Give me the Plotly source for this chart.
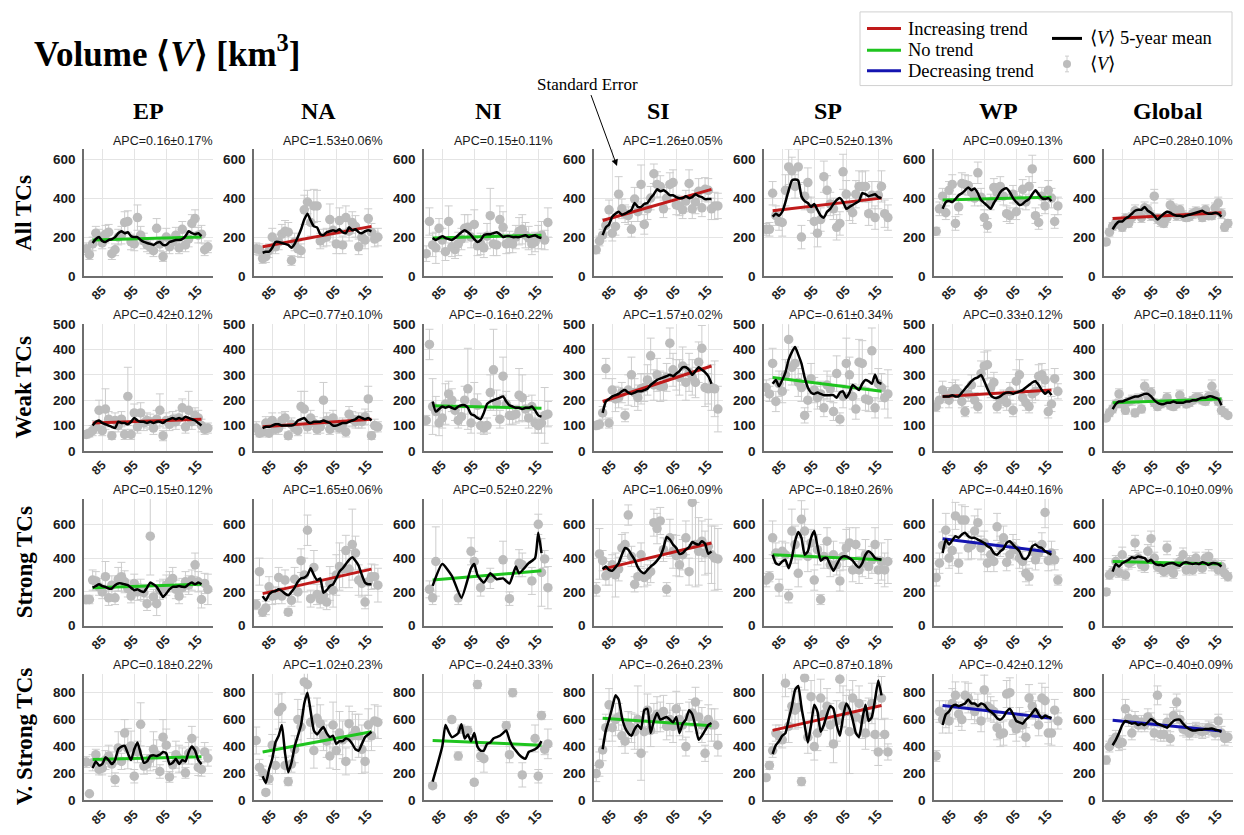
import plotly.graph_objects as go

# ---------------------------------------------------------------- axes data
YEARS = list(range(1980, 2019))          # yearly mean volume points
MEAN_YEARS = list(range(1982, 2017))     # 5-year running mean
TREND_YEARS = [1982, 2016]               # linear trend end points

REGIONS = ["EP", "NA", "NI", "SI", "SP", "WP", "Global"]
ROW_LABELS = ["All TCs", "Weak TCs", "Strong TCs", "V. Strong TCs"]
X_TICKS = [1985, 1995, 2005, 2015]
X_TICK_TEXT = ["85", "95", "05", "15"]
Y_TICKS = [[0, 200, 400, 600], [0, 100, 200, 300, 400, 500],
           [0, 200, 400, 600], [0, 200, 400, 600, 800]]
Y_MAX = [650, 500, 750, 940]

APC_ALL = ["0.16±0.17", "1.53±0.06", "0.15±0.11", "1.26±0.05", "0.52±0.13", "0.09±0.13", "0.28±0.10"]
APC_WEAK = ["0.42±0.12", "0.77±0.10", "-0.16±0.22", "1.57±0.02", "-0.61±0.34", "0.33±0.12", "0.18±0.11"]
APC_STRONG = ["0.15±0.12", "1.65±0.06", "0.52±0.22", "1.06±0.09", "-0.18±0.26", "-0.44±0.16", "-0.10±0.09"]
APC_VSTRONG = ["0.18±0.22", "1.02±0.23", "-0.24±0.33", "-0.26±0.23", "0.87±0.18", "-0.42±0.12", "-0.40±0.09"]

TREND_ALL = ["none", "inc", "none", "inc", "inc", "none", "inc"]
TREND_WEAK = ["inc", "inc", "none", "inc", "none", "inc", "none"]
TREND_STRONG = ["none", "inc", "none", "inc", "none", "dec", "none"]
TREND_VSTRONG = ["none", "none", "none", "none", "inc", "dec", "dec"]

# ---------------------------------------------------------------- All TCs
EP_ALL_V = [140, 110, 165, 220, 200, 170, 215, 225, 115, 135,
            200, 210, 275, 280, 175, 165, 300, 210, 180, 160,
            150, 130, 245, 165, 100, 200, 150, 175, 210, 145,
            240, 160, 190, 270, 295, 210, 215, 135, 150]
EP_ALL_SE = [30, 25, 35, 35, 40, 30, 45, 40, 30, 30,
             40, 45, 55, 55, 40, 35, 65, 45, 40, 35,
             35, 30, 50, 35, 25, 45, 35, 35, 40, 30,
             40, 35, 40, 45, 45, 40, 45, 30, 30]
EP_ALL_M = [170, 190, 200, 180, 175, 185, 190, 200, 220, 230,
            220, 225, 205, 200, 200, 185, 175, 170, 165, 160,
            170, 175, 160, 160, 175, 180, 185, 185, 190, 205,
            230, 220, 215, 220, 205]
EP_ALL_T = [185, 200]

NA_ALL_V = [140, 135, 90, 100, 130, 200, 150, 175, 215, 230,
            225, 80, 175, 140, 130, 340, 380, 275, 360, 360,
            180, 195, 200, 290, 235, 165, 285, 160, 300, 230,
            275, 255, 150, 200, 185, 295, 225, 190, 200]
NA_ALL_SE = [30, 30, 25, 30, 35, 45, 35, 40, 50, 55,
             50, 25, 45, 40, 35, 75, 60, 70, 85, 80,
             40, 45, 45, 80, 60, 50, 65, 45, 60, 50,
             55, 55, 40, 45, 45, 50, 45, 40, 45]
NA_ALL_M = [120, 125, 125, 145, 175, 175, 170, 165, 160, 145,
            165, 200, 240, 290, 320, 285, 255, 250, 215, 210,
            225, 230, 235, 230, 240, 225, 220, 250, 235, 240,
            225, 220, 230, 235, 230]
NA_ALL_T = [150, 255]

NI_ALL_V = [115, 280, 160, 145, 245, 185, 125, 280, 150, 135,
            165, 190, 245, 250, 200, 265, 155, 165, 145, 205,
            310, 165, 160, 290, 250, 165, 175, 165, 200, 230,
            240, 210, 195, 165, 175, 200, 210, 185, 275]
NI_ALL_SE = [40, 70, 60, 80, 50, 60, 45, 80, 50, 45,
             60, 55, 70, 65, 55, 75, 50, 55, 50, 65,
             140, 60, 55, 70, 80, 50, 55, 45, 60, 70,
             75, 65, 60, 55, 50, 60, 70, 50, 75]
NI_ALL_M = [195, 185, 195, 205, 195, 190, 185, 195, 210, 225,
            235, 225, 210, 190, 175, 185, 210, 215, 215, 220,
            225, 215, 200, 205, 205, 200, 200, 200, 205, 210,
            200, 205, 210, 200, 195]
NI_ALL_T = [195, 210]

SI_ALL_V = [135, 180, 210, 260, 340, 220, 255, 420, 345, 320,
            310, 240, 395, 330, 470, 265, 345, 400, 525, 470,
            460, 345, 400, 470, 480, 365, 360, 340, 385, 475,
            345, 380, 435, 350, 445, 440, 345, 360, 360]
SI_ALL_SE = [20, 25, 30, 35, 50, 40, 45, 90, 50, 45,
             45, 40, 60, 50, 100, 50, 55, 60, 50, 65,
             55, 45, 55, 60, 65, 50, 50, 45, 55, 70,
             50, 60, 65, 45, 60, 60, 55, 70, 65]
SI_ALL_M = [210, 250, 265, 305, 320, 330, 315, 320, 330, 340,
            375, 355, 355, 370, 375, 400, 420, 445, 435, 440,
            430, 415, 415, 405, 400, 400, 410, 400, 405, 420,
            410, 405, 395, 395, 395]
SI_ALL_T = [285, 445]

SP_ALL_V = [240, 240, 425, 310, 280, 275, 440, 560, 540, 460,
            560, 200, 410, 480, 345, 280, 220, 290, 510, 440,
            370, 345, 250, 270, 535, 420, 350, 325, 420, 460,
            460, 460, 320, 415, 300, 415, 460, 320, 300]
SP_ALL_SE = [30, 35, 60, 50, 45, 70, 80, 90, 70, 60,
             90, 60, 70, 75, 60, 60, 70, 60, 80, 75,
             60, 55, 65, 60, 90, 70, 65, 55, 70, 80,
             75, 80, 60, 70, 60, 70, 80, 70, 65]
SP_ALL_M = [305, 320, 310, 330, 380, 440, 490, 495, 490, 410,
            385, 375, 355, 370, 340, 310, 300, 330, 345, 370,
            390, 400, 380, 345, 355, 365, 375, 385, 425, 420,
            410, 415, 420, 405, 400]
SP_ALL_T = [335, 400]

WP_ALL_V = [230, 345, 410, 325, 440, 470, 270, 355, 475, 470,
            465, 430, 400, 530, 405, 300, 260, 380, 455, 430,
            460, 410, 320, 310, 420, 330, 390, 445, 380, 460,
            550, 310, 275, 410, 360, 440, 400, 280, 360]
WP_ALL_SE = [20, 35, 40, 35, 45, 50, 35, 40, 55, 50,
             50, 45, 40, 55, 45, 40, 35, 40, 45, 45,
             50, 45, 40, 40, 45, 40, 45, 50, 40, 50,
             70, 40, 35, 45, 40, 50, 50, 35, 45]
WP_ALL_M = [345, 380, 385, 380, 395, 415, 425, 440, 455, 440,
            450, 425, 390, 375, 360, 345, 375, 400, 430, 445,
            450, 430, 400, 380, 365, 370, 385, 395, 420, 440,
            420, 400, 395, 400, 385]
WP_ALL_T = [390, 405]

GL_ALL_V = [175, 225, 255, 275, 270, 250, 295, 270, 300, 335,
            320, 300, 350, 340, 310, 410, 295, 280, 270, 300,
            365, 345, 310, 340, 310, 300, 305, 320, 330, 325,
            300, 340, 310, 310, 350, 375, 320, 250, 270]
GL_ALL_SE = [15, 20, 20, 25, 25, 20, 25, 20, 25, 30,
             25, 25, 30, 25, 25, 35, 25, 25, 20, 25,
             30, 25, 25, 25, 25, 20, 20, 25, 25, 25,
             20, 25, 20, 20, 25, 30, 25, 20, 20]
GL_ALL_M = [240, 265, 280, 280, 295, 305, 320, 335, 340, 340,
            355, 335, 325, 310, 290, 305, 320, 330, 325, 315,
            310, 310, 305, 310, 315, 320, 325, 330, 335, 325,
            320, 320, 325, 320, 305]
GL_ALL_T = [295, 325]

# ---------------------------------------------------------------- Weak TCs
EP_WEAK_V = [65, 70, 80, 95, 160, 80, 165, 125, 60, 120,
             100, 125, 65, 215, 65, 150, 95, 150, 110, 120,
             115, 90, 125, 160, 60, 120, 105, 125, 115, 130,
             170, 95, 160, 115, 140, 130, 100, 85, 90]
EP_WEAK_SE = [15, 15, 20, 25, 40, 20, 80, 30, 15, 30,
              25, 30, 20, 115, 20, 35, 25, 40, 30, 30,
              30, 25, 35, 65, 20, 30, 25, 30, 30, 30,
              35, 25, 75, 30, 30, 30, 25, 20, 20]
EP_WEAK_M = [100, 115, 120, 110, 105, 100, 95, 90, 115, 110,
             110, 105, 115, 130, 120, 115, 115, 110, 115, 110,
             115, 115, 110, 120, 125, 130, 125, 130, 125, 135,
             130, 125, 120, 110, 100]
EP_WEAK_T = [110, 125]

NA_WEAK_V = [90, 70, 75, 110, 70, 120, 85, 90, 120, 130,
             60, 105, 90, 80, 175, 165, 95, 130, 110, 85,
             95, 200, 120, 85, 130, 100, 90, 105, 75, 145,
             125, 115, 120, 115, 135, 205, 60, 100, 95]
NA_WEAK_SE = [25, 15, 20, 25, 15, 30, 20, 25, 30, 25,
              15, 25, 20, 20, 60, 70, 25, 30, 25, 20,
              25, 70, 30, 20, 30, 25, 20, 25, 20, 30,
              30, 25, 30, 25, 30, 50, 15, 25, 20]
NA_WEAK_M = [90, 95, 95, 100, 105, 105, 100, 100, 100, 100,
             105, 120, 125, 130, 115, 110, 115, 115, 115, 120,
             115, 110, 100, 100, 105, 110, 110, 115, 120, 125,
             135, 130, 125, 130, 120]
NA_WEAK_T = [95, 125]

NI_WEAK_V = [120, 420, 175, 155, 110, 130, 185, 225, 200, 160,
             120, 135, 200, 245, 110, 190, 180, 100, 90, 100,
             230, 320, 190, 125, 295, 185, 140, 140, 145, 220,
             210, 165, 130, 175, 110, 100, 110, 140, 145]
NI_WEAK_SE = [20, 60, 110, 60, 50, 40, 80, 50, 45, 40,
              30, 35, 55, 160, 40, 80, 45, 30, 25, 30,
              70, 160, 50, 35, 75, 50, 35, 35, 35, 105,
              90, 50, 40, 45, 40, 30, 40, 110, 50]
NI_WEAK_M = [195, 155, 165, 175, 170, 175, 170, 165, 175, 180,
             180, 170, 145, 140, 130, 125, 150, 185, 195, 200,
             205, 210, 215, 195, 180, 175, 170, 170, 165, 170,
             170, 175, 160, 140, 135]
NI_WEAK_T = [178, 168]

SI_WEAK_V = [100, 105, 150, 325, 110, 240, 205, 210, 230, 140,
             240, 300, 230, 210, 245, 250, 280, 375, 260, 300,
             255, 255, 290, 425, 320, 300, 290, 335, 270, 310,
             290, 270, 350, 405, 250, 245, 250, 245, 165]
SI_WEAK_SE = [15, 15, 25, 40, 20, 45, 50, 40, 40, 25,
              60, 70, 55, 50, 60, 55, 60, 70, 60, 65,
              60, 55, 55, 60, 65, 60, 70, 75, 70, 75,
              70, 60, 80, 90, 75, 60, 90, 110, 90]
SI_WEAK_M = [150, 195, 205, 215, 220, 225, 235, 240, 230, 225,
             230, 235, 235, 240, 245, 260, 270, 280, 285, 290,
             295, 300, 295, 305, 315, 330, 330, 320, 300, 315,
             330, 320, 310, 295, 265]
SI_WEAK_T = [195, 335]

SP_WEAK_V = [250, 225, 345, 195, 265, 235, 300, 440, 330, 345,
             270, 250, 140, 200, 285, 240, 210, 225, 170, 260,
             245, 155, 305, 125, 215, 345, 300, 215, 165, 350,
             345, 205, 200, 395, 170, 265, 250, 210, 225]
SP_WEAK_SE = [30, 30, 60, 40, 50, 45, 60, 90, 70, 65,
              55, 55, 30, 45, 60, 50, 45, 50, 35, 55,
              50, 35, 70, 25, 45, 100, 70, 50, 40, 90,
              90, 45, 45, 90, 40, 60, 55, 45, 95]
SP_WEAK_M = [265, 280, 255, 280, 310, 360, 390, 410, 380, 345,
             290, 250, 230, 225, 230, 225, 220, 220, 220, 220,
             210, 230, 235, 210, 230, 260, 250, 240, 265, 280,
             275, 265, 300, 270, 265]
SP_WEAK_T = [290, 235]

WP_WEAK_V = [175, 200, 240, 220, 200, 235, 245, 230, 195, 155,
             225, 260, 200, 175, 305, 335, 340, 250, 270, 175,
             200, 210, 190, 235, 160, 275, 300, 210, 190, 175,
             225, 235, 295, 300, 280, 155, 185, 285, 235]
WP_WEAK_SE = [20, 30, 35, 30, 30, 35, 35, 30, 25, 20,
              30, 40, 30, 25, 50, 55, 55, 40, 40, 25,
              30, 30, 30, 35, 25, 45, 60, 30, 30, 25,
              35, 35, 45, 45, 40, 25, 30, 40, 30]
WP_WEAK_M = [215, 215, 215, 220, 215, 215, 230, 245, 260, 275,
             285, 290, 300, 275, 245, 220, 210, 210, 215, 225,
             230, 230, 225, 230, 235, 240, 250, 260, 270, 275,
             260, 240, 225, 235, 220]
WP_WEAK_T = [215, 240]

GL_WEAK_V = [130, 150, 165, 185, 225, 185, 160, 195, 200, 150,
             205, 165, 255, 215, 230, 190, 175, 185, 190, 210,
             180, 175, 185, 220, 195, 185, 190, 200, 210, 210,
             200, 195, 215, 255, 220, 195, 160, 150, 140]
GL_WEAK_SE = [10, 15, 15, 15, 20, 15, 15, 15, 20, 15,
              20, 15, 25, 20, 20, 15, 15, 15, 15, 20,
              15, 15, 15, 20, 15, 15, 15, 15, 20, 20,
              15, 15, 20, 25, 20, 15, 15, 15, 10]
GL_WEAK_M = [165, 185, 195, 195, 200, 205, 210, 215, 215, 220,
             225, 225, 215, 200, 190, 185, 185, 190, 190, 195,
             190, 190, 190, 195, 195, 200, 200, 205, 210, 210,
             215, 215, 210, 205, 180]
GL_WEAK_T = [190, 205]

# ---------------------------------------------------------------- Strong TCs
EP_STR_V = [155, 155, 270, 265, 230, 200, 290, 165, 240, 165,
            275, 290, 260, 220, 175, 250, 200, 215, 195, 130,
            530, 170, 130, 210, 220, 240, 260, 280, 215, 175,
            225, 260, 240, 270, 360, 260, 155, 250, 215]
EP_STR_SE = [25, 25, 60, 55, 50, 40, 90, 45, 55, 40,
             70, 85, 65, 50, 40, 55, 50, 60, 50, 40,
             230, 45, 70, 55, 55, 60, 60, 65, 55, 45,
             55, 60, 55, 60, 70, 60, 50, 60, 90]
EP_STR_M = [225, 235, 245, 235, 230, 220, 220, 240, 250, 250,
            245, 240, 225, 210, 215, 205, 200, 225, 255, 245,
            230, 200, 170, 190, 215, 230, 230, 235, 230, 230,
            245, 255, 245, 255, 245]
EP_STR_T = [225, 245]

NA_STR_V = [125, 320, 80, 105, 230, 175, 180, 285, 175, 270,
            80, 150, 275, 200, 385, 300, 565, 160, 345, 185,
            155, 180, 140, 250, 210, 300, 350, 335, 445, 335,
            480, 430, 270, 250, 140, 260, 290, 290, 240]
NA_STR_SE = [30, 80, 25, 40, 60, 50, 50, 60, 45, 60,
             20, 35, 70, 60, 70, 100, 90, 50, 100, 60,
             50, 50, 45, 100, 100, 120, 140, 110, 90, 110,
             210, 100, 90, 80, 40, 80, 75, 70, 100]
NA_STR_M = [175, 150, 185, 200, 205, 215, 205, 190, 180, 200,
            225, 260, 280, 285, 300, 340, 300, 270, 280, 195,
            210, 235, 245, 280, 320, 340, 365, 390, 405, 385,
            355, 300, 255, 245, 245]
NA_STR_T = [190, 335]

NI_STR_V = [None, 215, 165, 380, None, None, None, None, None, None,
            165, None, None, None, 440, 380, None, 225, None, None,
            280, None, None, None, 390, None, 160, None, None, 370,
            360, None, None, 265, None, 600, 315, 395, 225]
NI_STR_SE = [0, 50, 40, 205, 0, 0, 0, 0, 0, 0,
             40, 0, 0, 0, 80, 60, 0, 50, 0, 0,
             60, 0, 0, 0, 110, 0, 40, 0, 0, 80,
             70, 0, 0, 80, 0, 60, 200, 50, 125]
NI_STR_M = [236, None, None, 365, None, None, 295, None, None, 165,
            None, None, 340, 365, 300, None, 255, None, 310, None,
            275, None, 280, None, 250, None, 350, 310, None, None,
            370, None, 400, 550, 430]
NI_STR_T = [270, 325]

SI_STR_V = [215, 425, 385, 295, 310, 360, 300, 335, 460, 480,
            655, 410, 245, 290, 420, 285, 300, 320, 610, 575,
            620, 450, 215, 520, 440, 415, 360, 420, 520, 320,
            730, 480, 440, 500, 430, 470, 420, 400, 395]
SI_STR_SE = [40, 150, 60, 55, 70, 60, 130, 70, 80, 70,
             60, 60, 45, 60, 70, 55, 60, 65, 80, 90,
             80, 70, 40, 110, 100, 120, 70, 90, 100, 80,
             250, 250, 200, 120, 130, 160, 170, 190, 180]
SI_STR_M = [335, 350, 330, 325, 345, 370, 420, 460, 450, 420,
            390, 345, 320, 310, 330, 350, 365, 385, 410, 460,
            525, 510, 480, 460, 425, 430, 450, 465, 495, 485,
            480, 500, 485, 425, 440]
SI_STR_T = [335, 490]

SP_STR_V = [270, 290, 520, 430, 225, 440, 420, 175, 560, 480,
            310, 630, 560, 410, 490, 270, 450, 155, 410, 500,
            360, 420, 360, 265, 410, 460, 490, 330, 480, 330,
            370, 420, 350, 390, 480, 330, 380, 330, 380]
SP_STR_SE = [40, 30, 100, 60, 50, 60, 70, 40, 130, 110,
             80, 110, 130, 90, 80, 60, 90, 30, 70, 80,
             70, 80, 60, 60, 80, 110, 90, 70, 100, 80,
             80, 90, 70, 80, 100, 80, 110, 100, 130]
SP_STR_M = [420, 370, 360, 380, 390, 340, 400, 500, 555, 520,
            420, 440, 520, 560, 470, 385, 400, 400, 360, 325,
            360, 395, 410, 410, 400, 385, 360, 345, 370, 420,
            440, 425, 400, 395, 390]
SP_STR_T = [420, 390]

WP_STR_V = [285, 370, 475, 565, 400, 445, 650, 370, 625, 625,
            460, 475, 560, 610, 460, 490, 370, 420, 380, 585,
            470, 520, 375, 420, 470, 450, 400, 380, 310, 290,
            440, 390, 430, 480, 670, 385, 430, 390, 270]
WP_STR_SE = [50, 60, 80, 100, 60, 90, 80, 60, 90, 80,
             70, 80, 90, 80, 70, 70, 50, 60, 60, 80,
             60, 70, 50, 60, 70, 60, 60, 60, 50, 50,
             60, 60, 60, 70, 90, 60, 70, 60, 30]
WP_STR_M = [430, 510, 480, 505, 530, 520, 540, 550, 530, 520,
            520, 510, 500, 490, 470, 460, 430, 420, 440, 455,
            490, 500, 480, 460, 440, 400, 395, 420, 470, 480,
            465, 460, 440, 430, 420]
WP_STR_T = [515, 435]

GL_STR_V = [200, 300, 320, 380, 315, 420, 300, 370, 380, 490,
            400, 360, 350, 440, 515, 400, 350, 340, 320, 460,
            330, 310, 360, 380, 420, 330, 380, 330, 400, 360,
            340, 400, 410, 360, 360, 330, 350, 310, 290]
GL_STR_SE = [20, 25, 30, 35, 30, 45, 30, 35, 35, 45,
             35, 35, 35, 40, 45, 35, 30, 30, 30, 40,
             30, 30, 35, 35, 40, 30, 35, 30, 35, 35,
             30, 35, 40, 35, 35, 30, 35, 30, 25]
GL_STR_M = [320, 365, 350, 370, 380, 390, 405, 400, 410, 405,
            400, 380, 390, 370, 360, 360, 355, 365, 370, 370,
            360, 355, 370, 375, 370, 365, 370, 365, 375, 370,
            360, 370, 370, 365, 350]
GL_STR_T = [380, 365]

# ---------------------------------------------------------------- Very strong TCs
EP_VS_V = [285, 50, 280, 340, 230, 240, 300, 330, 270, 155,
           390, 290, 500, 385, 405, 180, 360, 565, 255, 270,
           310, 380, 340, 215, 470, 410, 175, 265, 340, 310,
           300, 205, 350, 460, 370, 245, 230, 360, 315]
EP_VS_SE = [40, 10, 60, 40, 40, 50, 70, 80, 90, 50,
            120, 60, 100, 150, 110, 50, 80, 160, 60, 70,
            90, 130, 110, 50, 130, 120, 40, 90, 100, 100,
            90, 40, 80, 90, 100, 60, 50, 70, 60]
EP_VS_M = [240, 290, 260, 270, 320, 300, 270, 300, 380, 400,
           405, 350, 300, 380, 430, 350, 280, 290, 330, 335,
           330, 340, 360, 350, 270, 280, 310, 270, 300, 290,
           360, 400, 370, 300, 270]
EP_VS_T = [305, 325]

NA_VS_V = [445, 245, 205, 60, 160, 410, 260, 660, 690, 260,
           140, 270, 380, 600, 545, 880, 860, 580, 370, 610,
           570, 480, 440, 330, 560, 370, 500, 450, 290, 570,
           480, 520, 480, 380, 290, 560, 480, 590, 580]
NA_VS_SE = [100, 60, 50, 20, 40, 80, 60, 130, 110, 60,
            30, 60, 100, 150, 130, 90, 100, 120, 130, 150,
            140, 110, 120, 90, 170, 140, 160, 140, 100, 130,
            180, 120, 160, 180, 80, 120, 110, 120, 120]
NA_VS_M = [180, 130, 230, 310, 430, 480, 560, 350, 210, 280,
           400, 480, 560, 720, 800, 660, 520, 490, 520, 545,
           500, 470, 480, 420, 440, 440, 460, 450, 420, 380,
           370, 420, 470, 490, 510]
NA_VS_T = [360, 510]

NI_VS_V = [None, None, 110, None, None, None, None, None, 600, None,
           330, 530, None, 520, None, 135, 860, 330, 310, None,
           None, None, None, None, None, 555, 340, 800, None, None,
           190, None, None, None, 460, 180, 630, 380, 420]
NI_VS_SE = [0, 0, 20, 0, 0, 0, 0, 0, 20, 0,
            30, 30, 0, 30, 0, 20, 30, 40, 100, 0,
            0, 0, 0, 0, 0, 30, 60, 30, 0, 0,
            90, 0, 0, 0, 100, 50, 30, 40, 110]
NI_VS_M = [140, None, None, 400, 560, 510, 470, 480, 500, 565,
           460, 490, 440, 500, 400, 370, 370, 420, 430, 460,
           470, 480, 500, 520, 450, 400, 370, 340, 320, 310,
           360, 370, 380, 400, 440]
NI_VS_T = [445, 410]

SI_VS_V = [200, 270, 375, 540, 710, 540, 600, 620, 480, 440,
           560, 540, 510, 600, 350, 510, 670, 520, 610, 640,
           620, 660, 550, 600, 550, 680, 600, 560, 400, 620,
           650, 730, 620, 560, 350, 600, 560, 560, 410]
SI_VS_SE = [60, 90, 80, 100, 120, 100, 120, 100, 80, 90,
            100, 110, 130, 250, 200, 150, 120, 120, 110, 130,
            110, 120, 100, 120, 120, 130, 120, 110, 70, 110,
            100, 110, 120, 130, 60, 110, 120, 120, 80]
SI_VS_M = [380, 520, 600, 690, 780, 750, 620, 540, 500, 480,
           530, 560, 530, 670, 680, 500, 590, 650, 600, 610,
           620, 600, 580, 620, 500, 570, 600, 670, 640, 550,
           450, 480, 520, 560, 575]
SI_VS_T = [610, 555]

SP_VS_V = [170, 260, 370, 500, 480, 450, 870, 550, 700, 670,
           690, 140, 910, 470, 770, 400, 500, 760, 640, 700,
           560, 420, 590, 900, 700, 660, 510, 760, 620, 720,
           600, 500, 620, 720, 490, 360, 760, 490, 360]
SP_VS_SE = [20, 30, 50, 60, 80, 60, 100, 120, 130, 140,
            150, 30, 90, 120, 120, 100, 130, 140, 120, 130,
            160, 140, 150, 100, 150, 120, 310, 130, 120, 130,
            140, 120, 140, 150, 120, 100, 160, 120, 60]
SP_VS_M = [345, 410, 440, 480, 500, 600, 700, 820, 850, 690,
           560, 430, 560, 710, 660, 510, 560, 640, 700, 680,
           560, 480, 620, 720, 680, 600, 500, 470, 600, 710,
           590, 620, 750, 890, 780]
SP_VS_T = [520, 705]

WP_VS_V = [330, 660, 600, 640, 590, 720, 780, 640, 600, 780,
           760, 700, 660, 690, 590, 820, 700, 680, 660, 540,
           490, 500, 790, 800, 570, 530, 600, 560, 470, 760,
           700, 650, 560, 760, 740, 500, 500, 670, 590]
WP_VS_SE = [40, 80, 100, 100, 90, 110, 100, 90, 80, 100,
            110, 100, 90, 100, 80, 110, 90, 90, 80, 90,
            90, 90, 100, 110, 80, 90, 90, 90, 70, 100,
            90, 90, 80, 110, 100, 80, 90, 80, 60]
WP_VS_M = [560, 640, 660, 700, 710, 700, 710, 720, 750, 720,
           720, 700, 720, 710, 680, 660, 640, 610, 600, 620,
           660, 680, 640, 590, 580, 570, 600, 620, 650, 680,
           640, 610, 630, 620, 610]
WP_VS_T = [705, 610]

GL_VS_V = [300, 400, 440, 470, 420, 430, 680, 610, 500, 600,
           560, 580, 560, 620, 590, 500, 780, 490, 490, 580,
           460, 630, 730, 600, 530, 520, 500, 520, 530, 520,
           510, 520, 540, 530, 500, 590, 500, 460, 470]
GL_VS_SE = [30, 40, 40, 50, 50, 50, 70, 60, 50, 60,
            50, 50, 50, 60, 60, 50, 70, 50, 50, 60,
            50, 60, 60, 60, 50, 50, 50, 50, 50, 50,
            50, 50, 50, 50, 50, 50, 50, 50, 40]
GL_VS_M = [410, 450, 500, 560, 590, 580, 570, 575, 560, 570,
           560, 580, 605, 590, 570, 560, 550, 540, 565, 590,
           600, 600, 570, 545, 530, 520, 520, 525, 525, 530,
           530, 535, 525, 520, 510]
GL_VS_T = [595, 515]

# ---------------------------------------------------------------- panel table
ROWS = [
    ([(EP_ALL_V, EP_ALL_SE, EP_ALL_M, EP_ALL_T), (NA_ALL_V, NA_ALL_SE, NA_ALL_M, NA_ALL_T),
      (NI_ALL_V, NI_ALL_SE, NI_ALL_M, NI_ALL_T), (SI_ALL_V, SI_ALL_SE, SI_ALL_M, SI_ALL_T),
      (SP_ALL_V, SP_ALL_SE, SP_ALL_M, SP_ALL_T), (WP_ALL_V, WP_ALL_SE, WP_ALL_M, WP_ALL_T),
      (GL_ALL_V, GL_ALL_SE, GL_ALL_M, GL_ALL_T)], APC_ALL, TREND_ALL),
    ([(EP_WEAK_V, EP_WEAK_SE, EP_WEAK_M, EP_WEAK_T), (NA_WEAK_V, NA_WEAK_SE, NA_WEAK_M, NA_WEAK_T),
      (NI_WEAK_V, NI_WEAK_SE, NI_WEAK_M, NI_WEAK_T), (SI_WEAK_V, SI_WEAK_SE, SI_WEAK_M, SI_WEAK_T),
      (SP_WEAK_V, SP_WEAK_SE, SP_WEAK_M, SP_WEAK_T), (WP_WEAK_V, WP_WEAK_SE, WP_WEAK_M, WP_WEAK_T),
      (GL_WEAK_V, GL_WEAK_SE, GL_WEAK_M, GL_WEAK_T)], APC_WEAK, TREND_WEAK),
    ([(EP_STR_V, EP_STR_SE, EP_STR_M, EP_STR_T), (NA_STR_V, NA_STR_SE, NA_STR_M, NA_STR_T),
      (NI_STR_V, NI_STR_SE, NI_STR_M, NI_STR_T), (SI_STR_V, SI_STR_SE, SI_STR_M, SI_STR_T),
      (SP_STR_V, SP_STR_SE, SP_STR_M, SP_STR_T), (WP_STR_V, WP_STR_SE, WP_STR_M, WP_STR_T),
      (GL_STR_V, GL_STR_SE, GL_STR_M, GL_STR_T)], APC_STRONG, TREND_STRONG),
    ([(EP_VS_V, EP_VS_SE, EP_VS_M, EP_VS_T), (NA_VS_V, NA_VS_SE, NA_VS_M, NA_VS_T),
      (NI_VS_V, NI_VS_SE, NI_VS_M, NI_VS_T), (SI_VS_V, SI_VS_SE, SI_VS_M, SI_VS_T),
      (SP_VS_V, SP_VS_SE, SP_VS_M, SP_VS_T), (WP_VS_V, WP_VS_SE, WP_VS_M, WP_VS_T),
      (GL_VS_V, GL_VS_SE, GL_VS_M, GL_VS_T)], APC_VSTRONG, TREND_VSTRONG),
]

# sanity check of series lengths
_bad = []
for r, (panels, _, _) in enumerate(ROWS):
    for c, (v, se, m, t) in enumerate(panels):
        if len(v) != len(YEARS) or len(se) != len(YEARS) or len(m) != len(MEAN_YEARS):
            _bad.append((ROW_LABELS[r], REGIONS[c], len(v), len(se), len(m)))
if _bad:
    raise ValueError(f"length mismatch: {_bad}")

# ---------------------------------------------------------------- styling
W, H = 1244, 835
COL_X0, COL_DX, PLOT_W = 84, 170, 129
ROW_TOP = [145, 323, 501, 679]
PLOT_H = 129
TREND_COLORS = {"inc": "#c01a1a", "none": "#1fc41f", "dec": "#1414b0"}
POINT_COLOR = "#bcbcbc"
ERR_COLOR = "#cdcdcd"
GRID_COLOR = "#e4e4e4"
AXIS_COLOR = "#6e6e6e"
SANS = "Liberation Sans, Arial, sans-serif"
SERIF = "Liberation Serif, Times New Roman, serif"


def px(x):
    return x / W


def py(y):
    return 1 - y / H


fig = go.Figure()
layout = {}
annotations = []
shapes = []

for r, (panels, apcs, trends) in enumerate(ROWS):
    for c, (vals, errs, means, trend) in enumerate(panels):
        n = r * 7 + c + 1
        sfx = "" if n == 1 else str(n)
        xref, yref = "x" + sfx, "y" + sfx
        x0 = COL_X0 + c * COL_DX
        top = ROW_TOP[r]

        layout["xaxis" + sfx] = dict(
            domain=[px(x0), px(x0 + PLOT_W)], anchor=yref,
            range=[1979.3, 2019.6], tickvals=X_TICKS, ticktext=X_TICK_TEXT,
            tickangle=-45, showgrid=True, gridcolor=GRID_COLOR, gridwidth=1,
            showline=True, linecolor=AXIS_COLOR, linewidth=1.5, zeroline=False,
            ticks="", tickfont=dict(family=SANS, size=12.5, color="#222", weight="bold"),
            fixedrange=True)
        layout["yaxis" + sfx] = dict(
            domain=[py(top + PLOT_H), py(top)], anchor=xref,
            range=[0, Y_MAX[r]], tickvals=Y_TICKS[r],
            showgrid=True, gridcolor=GRID_COLOR, gridwidth=1,
            showline=True, linecolor=AXIS_COLOR, linewidth=1.5, zeroline=False,
            ticks="", ticklabelstandoff=4,
            tickfont=dict(family=SANS, size=13.5, color="#1a1a1a", weight="bold"),
            fixedrange=True)

        # yearly values with standard error
        fig.add_trace(go.Scatter(
            x=YEARS, y=vals, mode="markers", xaxis=xref, yaxis=yref,
            marker=dict(size=9.5, color=POINT_COLOR),
            error_y=dict(type="data", array=errs, visible=True,
                         color=ERR_COLOR, thickness=1, width=4),
            showlegend=False, hoverinfo="skip"))
        # linear trend
        fig.add_trace(go.Scatter(
            x=TREND_YEARS, y=trend, mode="lines", xaxis=xref, yaxis=yref,
            line=dict(color=TREND_COLORS[trends[c]], width=3),
            showlegend=False, hoverinfo="skip"))
        # 5-year running mean
        fig.add_trace(go.Scatter(
            x=MEAN_YEARS, y=means, mode="lines", xaxis=xref, yaxis=yref,
            connectgaps=True, line=dict(color="black", width=2.5, shape="spline", smoothing=0.5),
            showlegend=False, hoverinfo="skip"))

        annotations.append(dict(
            text=f"APC={apcs[c]}%", xref="paper", yref="paper",
            x=px(x0 + PLOT_W + 2), y=py(top - 9), xanchor="right", yanchor="middle",
            showarrow=False, font=dict(family=SANS, size=12.5, color="#1a1a1a")))

# column headers
for c, name in enumerate(REGIONS):
    annotations.append(dict(
        text=f"<b>{name}</b>", xref="paper", yref="paper",
        x=px(COL_X0 + c * COL_DX + 64), y=py(106), xanchor="center", yanchor="middle",
        showarrow=False, font=dict(family=SERIF, size=24, color="black")))

# row headers
for r, name in enumerate(ROW_LABELS):
    annotations.append(dict(
        text=f"<b>{name}</b>", xref="paper", yref="paper",
        x=px(24), y=py(ROW_TOP[r] + PLOT_H / 2), xanchor="center", yanchor="middle",
        textangle=-90, showarrow=False, font=dict(family=SERIF, size=23, color="black")))

# main title
annotations.append(dict(
    text="<b>Volume ⟨<i>V</i>⟩ [km<sup>3</sup>]</b>", xref="paper", yref="paper",
    x=px(32), y=py(45), xanchor="left", yanchor="middle", showarrow=False,
    font=dict(family=SERIF, size=35, color="black")))

# standard error pointer
annotations.append(dict(
    text="Standard Error", xref="paper", yref="paper",
    x=px(617), y=py(162), ax=-30, ay=-82, showarrow=True,
    arrowhead=2, arrowsize=1.3, arrowwidth=1, arrowcolor="black",
    font=dict(family=SERIF, size=17, color="black")))

# legend box
shapes.append(dict(type="rect", xref="paper", yref="paper",
                   x0=px(860), x1=px(1232), y0=py(80), y1=py(5),
                   line=dict(color="#d0d0d0", width=1), fillcolor="white"))
legend_rows = [("Increasing trend", TREND_COLORS["inc"], 22),
               ("No trend", TREND_COLORS["none"], 44),
               ("Decreasing trend", TREND_COLORS["dec"], 65)]
for label, color, yy in legend_rows:
    shapes.append(dict(type="line", xref="paper", yref="paper",
                       x0=px(867), x1=px(901), y0=py(yy), y1=py(yy),
                       line=dict(color=color, width=3)))
    annotations.append(dict(text=label, xref="paper", yref="paper",
                            x=px(906), y=py(yy), xanchor="left", yanchor="middle",
                            showarrow=False, font=dict(family=SERIF, size=18.5, color="black")))
shapes.append(dict(type="line", xref="paper", yref="paper",
                   x0=px(1052), x1=px(1082), y0=py(32), y1=py(32),
                   line=dict(color="black", width=3)))
annotations.append(dict(text="⟨<i>V</i>⟩ 5-year mean", xref="paper", yref="paper",
                        x=px(1088), y=py(32), xanchor="left", yanchor="middle",
                        showarrow=False, font=dict(family=SERIF, size=18.5, color="black")))
shapes.append(dict(type="line", xref="paper", yref="paper",
                   x0=px(1067), x1=px(1067), y0=py(66), y1=py(50),
                   line=dict(color=ERR_COLOR, width=1)))
for yy in (50, 66):
    shapes.append(dict(type="line", xref="paper", yref="paper",
                       x0=px(1065), x1=px(1069), y0=py(yy), y1=py(yy),
                       line=dict(color=ERR_COLOR, width=1)))
shapes.append(dict(type="circle", xref="paper", yref="paper",
                   x0=px(1063), x1=px(1071), y0=py(62), y1=py(54),
                   fillcolor=POINT_COLOR, line=dict(width=0)))
annotations.append(dict(text="⟨<i>V</i>⟩", xref="paper", yref="paper",
                        x=px(1088), y=py(58), xanchor="left", yanchor="middle",
                        showarrow=False, font=dict(family=SERIF, size=18.5, color="black")))

fig.update_layout(
    width=W, height=H, autosize=False,
    margin=dict(l=0, r=0, t=0, b=0),
    paper_bgcolor="white", plot_bgcolor="white",
    annotations=annotations, shapes=shapes, showlegend=False,
    **layout)

fig.write_html("out.html")
